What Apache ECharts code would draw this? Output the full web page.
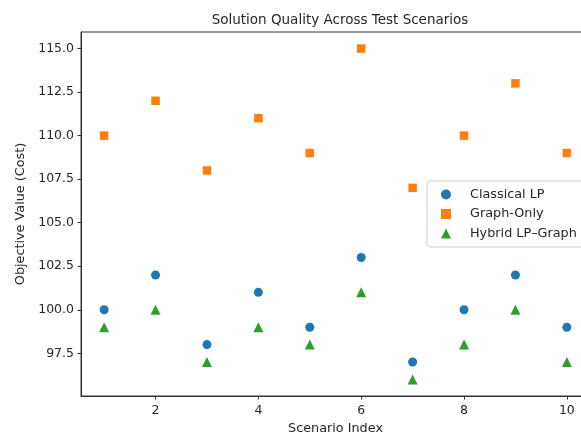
<!DOCTYPE html>
<html><head><meta charset="utf-8">
<script src="https://cdn.jsdelivr.net/npm/echarts@6/dist/echarts.min.js"></script>
<style>html,body{margin:0;padding:0;background:#fff}#c{width:581px;height:437px}</style>
</head><body><div id="c"></div>
<script>
const scenarios = [1,2,3,4,5,6,7,8,9,10];
const classicalLP = [100,102,98,101,99,103,97,100,102,99];
const graphOnly = [110,112,108,111,109,115,107,110,113,109];
const hybrid = [99,100,97,99,98,101,96,98,100,97];
const xTicks = [2,4,6,8,10];
const yTicks = [97.5,100,102.5,105,107.5,110,112.5,115];

const font = 'DejaVu Sans';
const txt = '#262626';
const pair = (ys) => scenarios.map((x,i)=>[x, ys[i]]);
const chart = echarts.init(document.getElementById('c'));
chart.setOption({
  animation:false,
  title:{text:'Solution Quality Across Test Scenarios', left:335, top:8, textAlign:'center',
    textStyle:{fontFamily:font, fontSize:13.5, fontWeight:'normal', color:txt}},
  grid:{left:81, top:32, width:509, height:364, show:true, borderColor:'#333', borderWidth:1,
    containLabel:false, outerBoundsMode:'none'},
  legend:{orient:'vertical', left:427, top:181, itemWidth:10, itemHeight:10, itemGap:6.5,
    padding:[7,10,7,14], borderColor:'#d0d0d0', borderWidth:1, borderRadius:3, backgroundColor:'#fff',
    textStyle:{fontFamily:font, fontSize:12.8, color:txt, padding:[0,0,0,14]},
    data:[{name:'Classical LP', icon:'circle'},{name:'Graph-Only', icon:'rect'},{name:'Hybrid LP–Graph', icon:'triangle'}]},
  xAxis:{type:'value', min:0.55, max:10.45, name:'Scenario Index', nameLocation:'middle', nameGap:26,
    nameTextStyle:{fontFamily:font, fontSize:12.8, color:txt},
    splitLine:{show:false},
    axisLine:{show:true, lineStyle:{color:'#333'}},
    axisTick:{show:true, length:3.5, customValues:xTicks, lineStyle:{color:'#333'}},
    axisLabel:{customValues:xTicks, fontFamily:font, fontSize:12.5, color:txt, margin:8}},
  yAxis:{type:'value', min:95.05, max:115.95, name:'Objective Value (Cost)', nameLocation:'middle', nameGap:51,
    nameTextStyle:{fontFamily:font, fontSize:12.8, color:txt},
    splitLine:{show:false},
    axisLine:{show:true, lineStyle:{color:'#333'}},
    axisTick:{show:true, length:3.5, customValues:yTicks, lineStyle:{color:'#333'}},
    axisLabel:{customValues:yTicks, fontFamily:font, fontSize:12.5, color:txt, margin:7,
      formatter:(v)=>v.toFixed(1)}},
  series:[
    {name:'Classical LP', type:'scatter', symbol:'circle', symbolSize:9, data:pair(classicalLP), itemStyle:{color:'#1f77b4', opacity:1}},
    {name:'Graph-Only', type:'scatter', symbol:'rect', symbolSize:8.5, data:pair(graphOnly), itemStyle:{color:'#ff7f0e', opacity:1}},
    {name:'Hybrid LP–Graph', type:'scatter', symbol:'triangle', symbolSize:10, data:pair(hybrid), itemStyle:{color:'#2ca02c', opacity:1}}
  ]
});
</script></body></html>
